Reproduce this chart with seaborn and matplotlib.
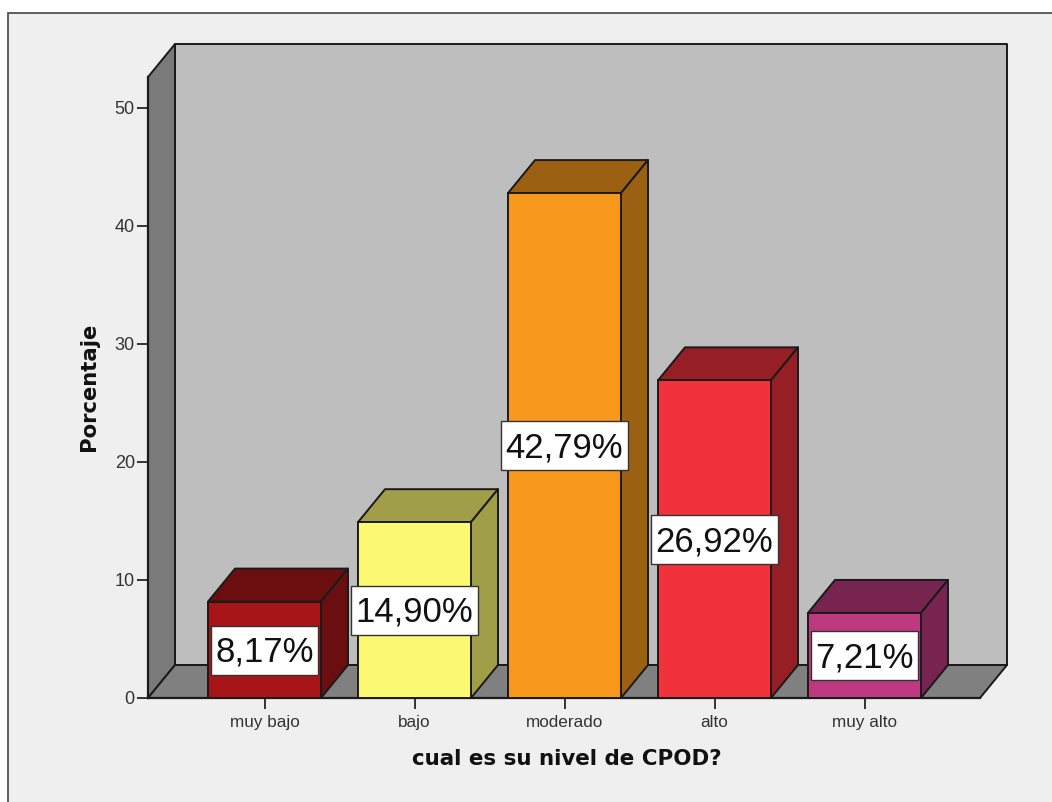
import matplotlib
matplotlib.use("Agg")
import matplotlib.pyplot as plt
from matplotlib.patches import Polygon, Rectangle
from matplotlib.path import Path
import seaborn as sns
import pandas as pd

categories = ["muy bajo", "bajo", "moderado", "alto", "muy alto"]
percentages = [8.17, 14.90, 42.79, 26.92, 7.21]
front_colors = ["#A81519", "#FBF871", "#F7981D", "#F2323A", "#BD3A80"]
top_colors = ["#6B0E10", "#A09E48", "#9C6012", "#951F24", "#772550"]
value_labels = ["8,17%", "14,90%", "42,79%", "26,92%", "7,21%"]
y_ticks = [0, 10, 20, 30, 40, 50]

W, H = 1052, 802
# pixel scale of the plot
PX_X = 150.0
PX_Y = 11.8
DX = 27 / PX_X
DY = 33 / PX_Y
EDGE = "#1a1a1a"

sns.set_theme(style="white")
plt.rcParams["font.family"] = ["Liberation Sans", "DejaVu Sans"]

fig = plt.figure(figsize=(W / 100, H / 100), dpi=100, facecolor="white")
fig.add_artist(Rectangle((8 / W, -0.1), 1.1, 0.1 + (H - 13) / H, transform=fig.transFigure,
                         facecolor="#EFEFEF", edgecolor="#444444", linewidth=1.2, zorder=-1))

ax = fig.add_axes([148 / W, (H - 698) / H, 832 / W, 621 / H])
ax.patch.set_alpha(0)
xmin, xmax = -116.5 / PX_X, 4 + 115.5 / PX_X
ymax = 621 / PX_Y

df = pd.DataFrame({"nivel": categories, "porcentaje": percentages})
sns.barplot(data=df, x="nivel", y="porcentaje", hue="nivel", palette=front_colors,
            legend=False, width=113 / PX_X, saturation=1, ax=ax,
            edgecolor=EDGE, linewidth=1.4, zorder=5)
ax.set_xlim(xmin, xmax)
ax.set_ylim(0, ymax)


def face(points, color, z):
    ax.add_patch(Polygon(points, closed=True, facecolor=color, edgecolor=EDGE,
                         linewidth=1.4, zorder=z, clip_on=False, joinstyle="round"))


# label box: narrow at the sides, tall above and below the digits
def label_box(x0, y0, width, height, mutation_size):
    left, right = x0 - 4.5, x0 + width + 4.5
    bottom, top = y0 - 6, y0 + height + 10
    return Path([(left, bottom), (right, bottom), (right, top), (left, top), (left, bottom)], closed=True)


bars = [c[0] for c in ax.containers]

# back wall, left wall, floor
face([(xmin + DX, DY), (xmax + DX, DY), (xmax + DX, ymax + DY), (xmin + DX, ymax + DY)], "#BEBEBE", 1)
face([(xmin, 0), (xmin + DX, DY), (xmin + DX, ymax + DY), (xmin, ymax)], "#7A7A7A", 1.5)
face([(xmin, 0), (xmax, 0), (xmax + DX, DY), (xmin + DX, DY)], "#808080", 1.5)

# depth faces of each bar
for bar, top in zip(bars, top_colors):
    x0, x1, h = bar.get_x(), bar.get_x() + bar.get_width(), bar.get_height()
    face([(x0, h), (x1, h), (x1 + DX, h + DY), (x0 + DX, h + DY)], top, 4)
    face([(x1, 0), (x1 + DX, DY), (x1 + DX, h + DY), (x1, h)], top, 4)

# value labels at half height
for i, (val, txt) in enumerate(zip(percentages, value_labels)):
    ax.text(i, val / 2 - 0.2, txt, ha="center", va="center", fontsize=25, color="#111111",
            zorder=7, bbox=dict(boxstyle=label_box, facecolor="white", edgecolor="#333333", linewidth=1))

for s in ["top", "right"]:
    ax.spines[s].set_visible(False)
for s in ["left", "bottom"]:
    ax.spines[s].set_color(EDGE)
    ax.spines[s].set_linewidth(1.6)
    ax.spines[s].set_zorder(3)
ax.set_yticks(y_ticks)
ax.tick_params(axis="both", which="major", left=True, bottom=True, length=8, width=1.4,
               color="#333333", labelcolor="#333333", pad=4)
ax.tick_params(axis="x", labelsize=12.3)
ax.tick_params(axis="y", labelsize=13, pad=1.5)
ax.set_xlabel("cual es su nivel de CPOD?", fontsize=15.4, fontweight="bold", color="#111111", family="DejaVu Sans")
ax.set_ylabel("Porcentaje", fontsize=15.2, fontweight="bold", color="#111111", family="DejaVu Sans")
ax.xaxis.set_label_coords((567 - 148) / 832, -(759 - 698) / 621, transform=ax.transAxes)
ax.yaxis.set_label_coords(-(148 - 89) / 832, (698 - 387) / 621, transform=ax.transAxes)
ax.xaxis.label.set_va("center")
ax.yaxis.label.set_va("center")

fig.savefig("out.png", dpi=100, facecolor=fig.get_facecolor())
